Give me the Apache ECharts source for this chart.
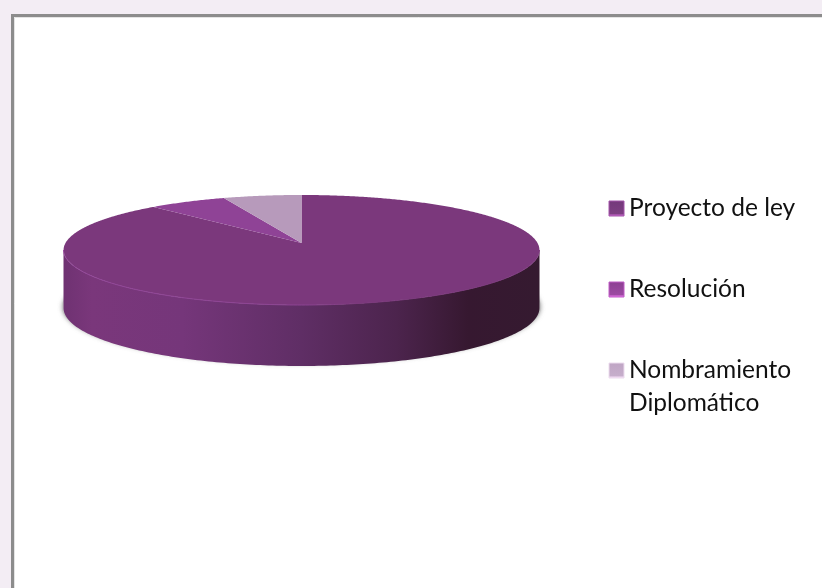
<!DOCTYPE html>
<html>
<head>
<meta charset="utf-8">
<style>html,body{margin:0;padding:0;background:#f3edf4}#c{width:822px;height:588px}</style>
<script src="https://cdn.jsdelivr.net/npm/echarts@6/dist/echarts.min.js"></script>
</head>
<body>
<div id="c"></div>
<script>
const categories = ['Proyecto de ley', 'Resolución', 'Nombramiento\nDiplomático'];
const values = [88, 6, 6];
const colors = ['#7b387c', '#8f4396', '#b79abb'];
const legendColors = [
  ['#74397a', '#7d3f82', '#c060c4', '#a455aa'],
  ['#8c3f92', '#9c4aa2', '#e070e4', '#c05cc6'],
  ['#bfa5c4', '#c6aecb', '#f0d8f2', '#ecdcee']
];

const total = values.reduce((a, b) => a + b, 0);
const CX = 301.5, CY = 250, PK = 236, PA = 55, PB = -7, PC = -0.127;
function project(deg) {
  const a = deg * Math.PI / 180, u = Math.sin(a), v = -Math.cos(a), w = 1 + PC * v;
  return [CX + PK * u / w, CY + (PA * v + PB) / w];
}
const centre = () => [CX, CY + PB];
function wedge(fromDeg, toDeg) {
  const pts = [centre()];
  for (let d = fromDeg; d <= toDeg; d += 0.5) pts.push(project(d));
  pts.push(project(toDeg));
  return pts;
}
function lowerArc(cy, rx, ry) {
  const pts = [];
  for (let d = 180; d >= 0; d -= 1) {
    const a = d * Math.PI / 180;
    pts.push([CX + rx * Math.cos(a), cy + ry * Math.sin(a)]);
  }
  return pts;
}

function renderSlice(params, api) {
  const i = params.seriesIndex;
  let before = 0;
  for (let k = 0; k < i; k++) before += values[k];
  const span = api.value(0);
  const from = before / total * 360, to = (before + span) / total * 360;
  const children = [];
  if (i === 0) {
    const shadow = lowerArc(307, 239.5, 57).concat(lowerArc(307, 239.5, -57).reverse());
    children.push({ type: 'polygon', shape: { points: shadow },
      style: { fill: '#c4c4c4', shadowBlur: 4, shadowColor: 'rgba(120,120,120,0.7)' } });
    const rim = lowerArc(CY, 238, 55);
    const foot = lowerArc(308, 238, 58).reverse();
    children.push({ type: 'polygon', shape: { points: rim.concat(foot) },
      style: { fill: new echarts.graphic.LinearGradient(0, 0, 1, 0, [
        { offset: 0, color: '#6f3272' }, { offset: 0.06, color: '#7a377b' },
        { offset: 0.25, color: '#75367a' }, { offset: 0.5, color: '#5f2e65' },
        { offset: 0.7, color: '#4c244d' }, { offset: 0.85, color: '#361830' },
        { offset: 1, color: '#351a30' }]) } });
  }
  children.push({ type: 'polygon', shape: { points: wedge(from, to) },
    style: { fill: colors[i] } });
  if (i === 0) {
    children.push({ type: 'polyline', shape: { points: lowerArc(CY, 238, 55) },
      style: { fill: null, lineWidth: 1, stroke: new echarts.graphic.LinearGradient(0, 0, 1, 0, [
        { offset: 0, color: '#93469a' }, { offset: 0.5, color: '#8c4392' },
        { offset: 0.62, color: '#7b387c' }, { offset: 1, color: '#7b387c' }]) } });
  }
  return { type: 'group', children };
}

const chart = echarts.init(document.getElementById('c'), null, { renderer: 'canvas' });
chart.setOption({
  animation: false,
  backgroundColor: '#f3edf4',
  graphic: [
    { type: 'rect', silent: true, z: -10, shape: { x: 12.5, y: 15.5, width: 900, height: 700 },
      style: { fill: '#ffffff', stroke: '#8c8c8c', lineWidth: 3 } },
    { type: 'rect', silent: true, z: -9, shape: { x: 14.5, y: 17.5, width: 900, height: 700 },
      style: { fill: null, stroke: '#e4e4e4', lineWidth: 1 } }
  ],
  legend: {
    orient: 'vertical',
    left: 608.5,
    top: 159,
    padding: 0,
    itemGap: -18,
    itemWidth: 15,
    itemHeight: 15,
    icon: 'rect',
    selectedMode: false,
    data: categories.map((name, i) => ({
      name,
      itemStyle: {
        borderColor: legendColors[i][3],
        borderWidth: 1,
        color: new echarts.graphic.LinearGradient(0, 0, 0, 1, [
          { offset: 0, color: legendColors[i][0] },
          { offset: 0.82, color: legendColors[i][1] },
          { offset: 0.92, color: legendColors[i][2] },
          { offset: 1, color: legendColors[i][2] }])
      }
    })),
    formatter: name => name.includes('\n') ? ' \n' + name : ' \n' + name + '\n ',
    textStyle: { fontFamily: 'Lato', fontSize: 24.5, lineHeight: 33, color: '#111111' }
  },
  series: categories.map((name, i) => ({
    type: 'custom',
    name,
    coordinateSystem: 'none',
    silent: true,
    itemStyle: { color: colors[i] },
    data: [[values[i]]],
    renderItem: renderSlice
  }))
});
</script>
</body>
</html>
